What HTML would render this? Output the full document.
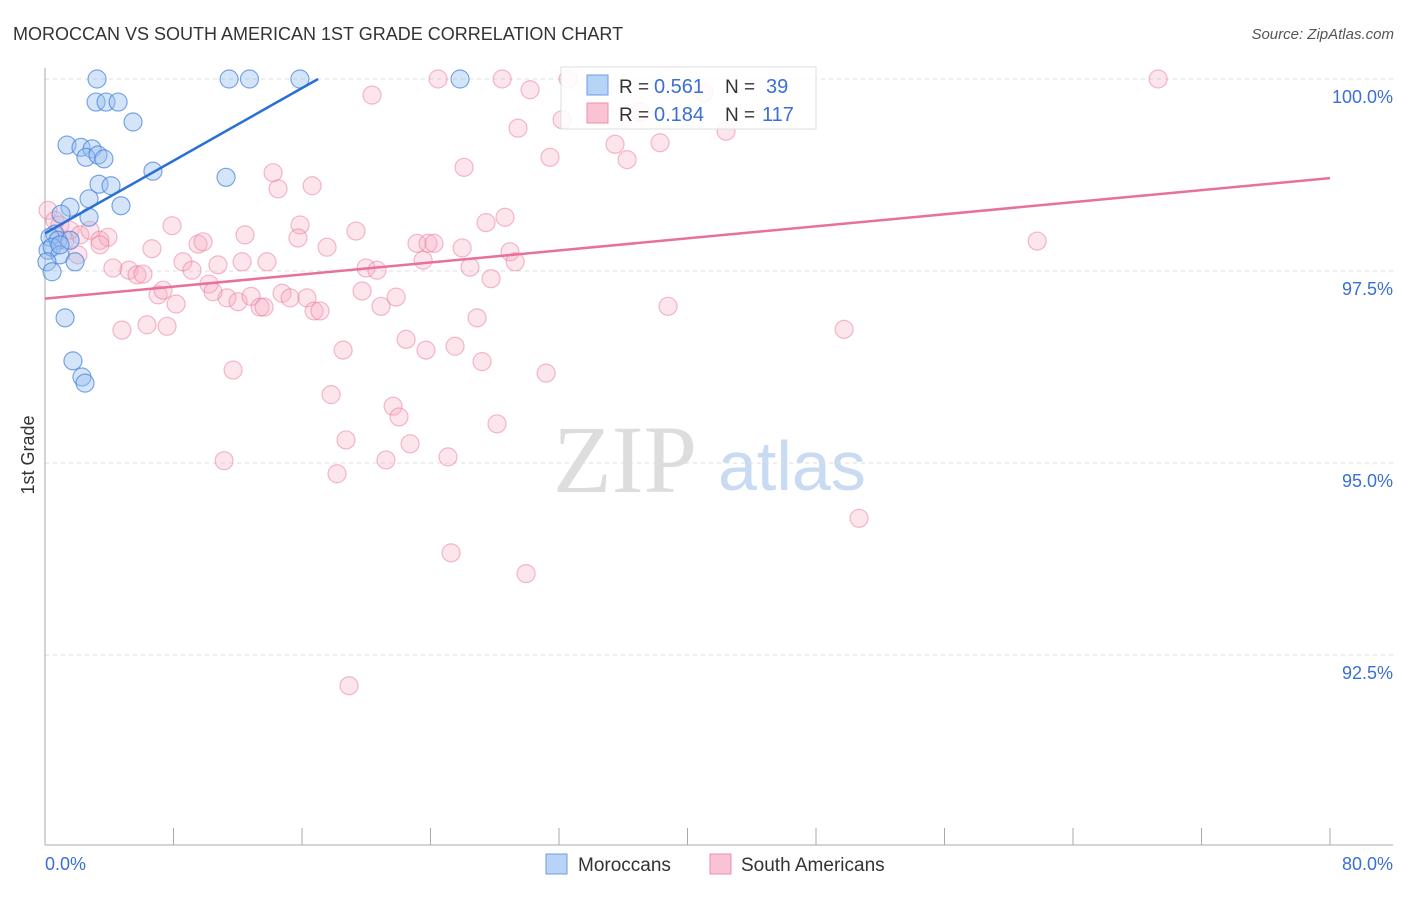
<!DOCTYPE html>
<html><head><meta charset="utf-8"><style>
body{margin:0;background:#fff;font-family:"Liberation Sans",sans-serif}
</style></head><body>
<svg width="1406" height="892" xmlns="http://www.w3.org/2000/svg" font-family="Liberation Sans, sans-serif">
<text x="13" y="40" font-size="18" fill="#333">MOROCCAN VS SOUTH AMERICAN 1ST GRADE CORRELATION CHART</text>
<text x="1394" y="39" font-size="15" fill="#555" font-style="italic" text-anchor="end">Source: ZipAtlas.com</text>
<text x="553" y="492" font-size="96" font-family="Liberation Serif, serif" fill="#ddd">ZIP</text>
<text x="718" y="490" font-size="70" fill="#c9dbf3">atlas</text>
<g id="grid"></g>
<g id="axes"></g>
<g id="pts"></g>
<g id="lines"></g>
<text transform="translate(34,455) rotate(-90)" font-size="18" fill="#333" text-anchor="middle">1st Grade</text>
<g>
<rect x="561" y="67" width="255" height="62" fill="rgba(255,255,255,0.85)" stroke="#ddd"/>
<rect x="587" y="75" width="21" height="20" fill="#b7d3f6" stroke="#6b9ee6"/>
<rect x="587" y="103" width="21" height="20" fill="#f9c3d3" stroke="#ee8fae"/>
<text x="619" y="93" font-size="19" fill="#333">R =</text>
<text x="654" y="93" font-size="20" fill="#3a6fd4">0.561</text>
<text x="725" y="93" font-size="19" fill="#333">N =</text>
<text x="766" y="93" font-size="20" fill="#3a6fd4">39</text>
<text x="619" y="121" font-size="19" fill="#333">R =</text>
<text x="654" y="121" font-size="20" fill="#3a6fd4">0.184</text>
<text x="725" y="121" font-size="19" fill="#333">N =</text>
<text x="762" y="121" font-size="20" fill="#3a6fd4">117</text>
</g>
<g>
<rect x="546" y="854" width="21" height="20" fill="#b7d3f6" stroke="#6b9ee6"/>
<text x="578" y="871" font-size="19" fill="#333">Moroccans</text>
<rect x="710" y="854" width="21" height="20" fill="#f9c3d3" stroke="#ee8fae"/>
<text x="741" y="871" font-size="19" fill="#333">South Americans</text>
</g>
</svg>
<script>
const yTicks=[100,97.5,95,92.5];
const yTickLabels=["100.0%","97.5%","95.0%","92.5%"];
const blueX=[3.24,11.46,12.73,15.87,25.84,3.18,3.80,4.55,5.48,1.37,2.24,2.93,2.55,3.30,3.67,6.72,11.27,3.36,4.11,2.74,1.56,4.73,2.74,1.00,0.62,0.31,0.81,1.56,0.19,0.44,0.93,1.87,0.12,0.44,1.25,1.74,2.30,2.49,0.93];
const blueY=[100,100,100,100,100,99.70,99.70,99.70,99.44,99.14,99.11,99.09,98.98,99.01,98.96,98.80,98.72,98.63,98.61,98.44,98.33,98.35,98.20,98.24,97.98,97.94,97.90,97.90,97.77,97.81,97.71,97.62,97.62,97.49,96.89,96.33,96.12,96.04,97.84];
const pinkX=[24.47,28.46,32.57,69.30,20.36,30.20,41.03,29.45,32.19,35.49,38.29,42.40,36.24,31.44,26.09,14.20,14.51,16.63,37.05,0.19,0.62,0.93,1.56,1.25,2.18,2.80,3.42,3.92,2.05,3.42,7.91,12.45,15.88,19.36,28.64,27.46,9.53,9.84,6.66,15.75,17.56,23.16,23.85,24.22,25.97,28.95,29.27,23.54,61.77,8.59,10.77,12.27,13.82,19.99,20.67,26.46,4.23,5.23,5.73,6.10,9.15,10.21,27.77,7.04,8.16,7.35,11.33,10.46,12.02,12.83,13.39,13.64,14.76,15.26,16.31,16.75,17.12,19.74,20.92,21.86,26.90,38.79,4.79,6.35,7.60,22.48,23.72,25.53,18.56,27.21,31.20,11.71,49.75,17.81,21.67,22.04,28.14,18.74,22.73,11.15,21.23,25.09,18.18,50.68,25.28,29.95,18.93];
const pinkY=[100,100,100,100,99.79,99.86,99.82,99.36,99.47,99.15,99.17,99.32,98.95,98.98,98.85,98.78,98.57,98.61,99.57,98.29,98.16,98.10,98.03,97.90,97.97,98.03,97.90,97.94,97.71,97.84,98.09,97.97,98.10,98.02,98.20,98.13,97.85,97.88,97.79,97.93,97.81,97.86,97.86,97.86,97.80,97.75,97.62,97.64,97.89,97.62,97.58,97.62,97.62,97.54,97.51,97.55,97.54,97.51,97.45,97.46,97.51,97.33,97.40,97.19,97.07,97.25,97.15,97.23,97.10,97.17,97.03,97.03,97.21,97.15,97.15,96.98,96.98,97.24,97.04,97.16,96.89,97.04,96.73,96.80,96.78,96.61,96.47,96.52,96.47,96.32,96.17,96.21,96.74,95.89,95.74,95.60,95.51,95.30,95.25,95.03,95.04,95.08,94.86,94.28,93.83,93.56,92.10];
const blueTrend=[[0,97.99],[17,100]];
const pinkTrend=[[0,97.14],[80,98.71]];
const NS="http://www.w3.org/2000/svg";
const X=v=>45+v*1285/80, Y=v=>79+(100-v)*76.8;
function mk(tag,attrs,parent){const e=document.createElementNS(NS,tag);for(const k in attrs)e.setAttribute(k,attrs[k]);document.getElementById(parent).appendChild(e);return e;}
yTicks.forEach((t,i)=>{
 const g=mk('line',{x1:45,x2:1393,y1:Y(t),y2:Y(t),stroke:'#ddd','stroke-dasharray':'4,4'},'grid');
 
 
 const l=mk('text',{x:1393,y:Y(t)+24,'font-size':18,fill:'#3a6fd4','text-anchor':'end'},'grid');
 l.textContent=yTickLabels[i];
 
 
});
let a=mk('line',{x1:45,x2:45,y1:68,y2:845,stroke:'#aaa'},'axes');


a=mk('line',{x1:45,x2:1393,y1:845,y2:845,stroke:'#aaa'},'axes');


for(let k=0;k<=10;k++){const t=mk('line',{x1:X(k*8),x2:X(k*8),y1:828,y2:845,stroke:'#aaa'},'axes');
 
 }
let tl=mk('text',{x:45,y:870,'font-size':18,fill:'#3a6fd4'},'axes');tl.textContent='0.0%';


tl=mk('text',{x:1393,y:870,'font-size':18,fill:'#3a6fd4','text-anchor':'end'},'axes');tl.textContent='80.0%';


pinkX.forEach((x,i)=>{const c=mk('circle',{cx:X(x),cy:Y(pinkY[i]),r:9,fill:'rgba(247,168,192,0.3)',stroke:'rgba(232,120,155,0.5)','stroke-width':1.2},'pts');
 
 });
blueX.forEach((x,i)=>{const c=mk('circle',{cx:X(x),cy:Y(blueY[i]),r:9,fill:'rgba(150,190,240,0.4)',stroke:'rgba(70,130,220,0.7)','stroke-width':1.2},'pts');
 
 });
let ln=mk('line',{x1:X(blueTrend[0][0]),y1:Y(blueTrend[0][1]),x2:X(blueTrend[1][0]),y2:Y(blueTrend[1][1]),stroke:'#2a6fd6','stroke-width':2.5},'lines');


ln=mk('line',{x1:X(pinkTrend[0][0]),y1:Y(pinkTrend[0][1]),x2:X(pinkTrend[1][0]),y2:Y(pinkTrend[1][1]),stroke:'#e8709a','stroke-width':2.5},'lines');


</script>
</body></html>
